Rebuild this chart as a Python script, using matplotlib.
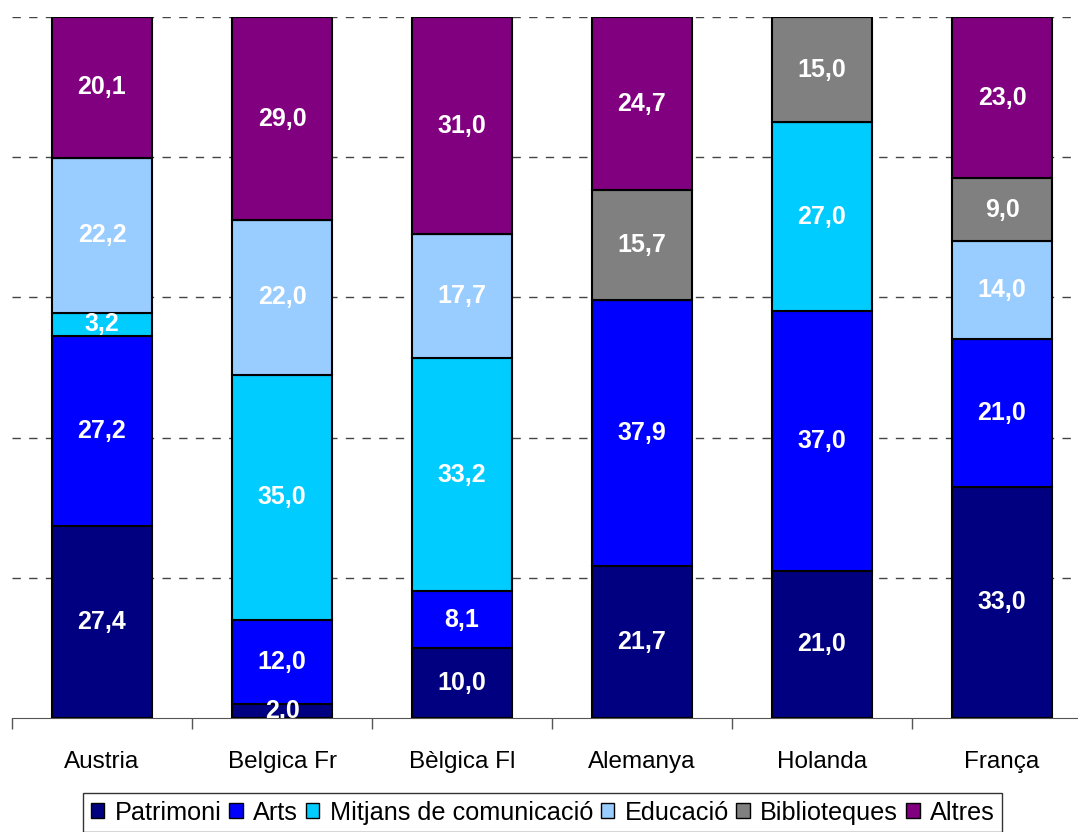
import numpy as np
import matplotlib.pyplot as plt
from matplotlib.patches import Patch

countries = ["Austria", "Belgica Fr", "Bèlgica Fl", "Alemanya", "Holanda", "França"]
categories = ["Patrimoni", "Arts", "Mitjans de comunicació", "Educació", "Biblioteques", "Altres"]
colors = ["#000080", "#0000FF", "#00CCFF", "#99CCFF", "#808080", "#800080"]

patrimoni = [27.4, 2.0, 10.0, 21.7, 21.0, 33.0]
arts = [27.2, 12.0, 8.1, 37.9, 37.0, 21.0]
mitjans = [3.2, 35.0, 33.2, 0.0, 27.0, 0.0]
educacio = [22.2, 22.0, 17.7, 0.0, 0.0, 14.0]
biblioteques = [0.0, 0.0, 0.0, 15.7, 15.0, 9.0]
altres = [20.1, 29.0, 31.0, 24.7, 0.0, 23.0]

series = np.array([patrimoni, arts, mitjans, educacio, biblioteques, altres])
shares = series / series.sum(axis=0) * 100

plt.rcParams["font.family"] = ["Liberation Sans", "DejaVu Sans"]

fig = plt.figure(figsize=(10.78, 8.32), dpi=100)
ax = fig.add_axes([12 / 1078, 1 - 718 / 832, 1 - 12 / 1078, (718 - 17) / 832])

x = np.arange(len(countries))
bottom = np.zeros(len(countries))
for vals, pct, color in zip(series, shares, colors):
    ax.bar(x, pct, 0.56, bottom=bottom, color=color, edgecolor="black", linewidth=1.5, zorder=3)
    for xi, v, b, p in zip(x, vals, bottom, pct):
        if v > 0:
            ax.text(xi, b + p / 2, f"{v:.1f}".replace(".", ","), ha="center", va="center",
                    color="white", fontsize=18, fontweight="bold", zorder=4, clip_on=True)
    bottom += pct

ax.set_yticks([20, 40, 60, 80, 100])
ax.set_yticklabels([])
ax.tick_params(axis="y", length=0)
ax.yaxis.grid(True, linestyle=(0, (6, 6)), color="#444444", linewidth=1, zorder=0)

ax.set_xticks(x)
ax.set_xticklabels(countries, fontsize=17.5)
ax.set_xticks(np.arange(-0.5, len(countries), 1), minor=True)
ax.tick_params(axis="x", which="major", length=0, pad=24)
ax.tick_params(axis="x", which="minor", length=8, color="#555555", width=1)

# limits after the ticks so the minor ticks don't widen the view
ax.set_ylim(0, 100)
ax.set_xlim(-0.5, (1078 - 12) / 180 - 0.5)

for side in ["left", "right", "top"]:
    ax.spines[side].set_visible(False)
ax.spines["bottom"].set_color("#555555")

handles = [Patch(facecolor=c, edgecolor="black", linewidth=1) for c in colors]
leg = fig.legend(handles, categories, loc="upper left", bbox_to_anchor=(83 / 1078, 1 - 793 / 832),
                 ncol=6, fontsize=18.2, frameon=True, fancybox=False, handlelength=0.55,
                 handleheight=0.55, handletextpad=0.4, columnspacing=0.3, borderpad=0.3,
                 borderaxespad=0)
leg.get_frame().set_edgecolor("black")
leg.get_frame().set_linewidth(1)

fig.savefig("out.png", dpi=100)
